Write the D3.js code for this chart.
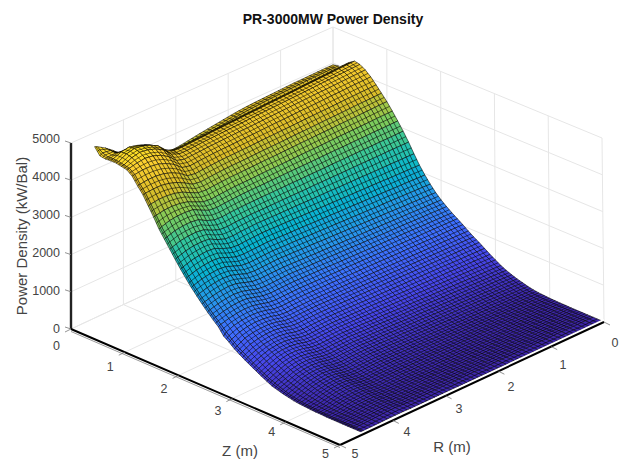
<!DOCTYPE html>
<html>
<head>
<meta charset="utf-8">
<script src="https://d3js.org/d3.v7.min.js"></script>
<style>
  html, body { margin: 0; padding: 0; background: #fff; }
  text { font-family: "Liberation Sans", Arial, sans-serif; }
</style>
</head>
<body>
<svg></svg>
<script>
const chartTitle = "PR-3000MW Power Density";
const zTicks = [0, 1, 2, 3, 4, 5];
const rTicks = [0, 1, 2, 3, 4, 5];
const powerTicks = [0, 1000, 2000, 3000, 4000, 5000];

const zValues = [0, .1, .2, .3, .4, .5, .6, .7, .8, .9, 1, 1.1, 1.2, 1.3, 1.4, 1.5, 1.6, 1.7, 1.8, 1.9, 2, 2.1, 2.2, 2.3, 2.4, 2.5, 2.6, 2.7, 2.8, 2.9, 3, 3.1, 3.2, 3.3, 3.4, 3.5, 3.6, 3.7, 3.8, 3.9, 4, 4.1, 4.2, 4.3, 4.4, 4.5, 4.6, 4.7, 4.8, 4.95];
const rValues = [0, .15, .3, .45, .6, .75, .9, 1.05, 1.2, 1.35, 1.5, 1.65, 1.8, 1.95, 2.1, 2.25, 2.4, 2.55, 2.7, 2.85, 3, 3.15, 3.3, 3.45, 3.6, 3.75, 3.9, 4.05, 4.2, 4.35, 4.5, 4.55];

// power density, one row per z, one column per r
const powerDensity = [
[3950,3950,3945,3940,3935,3930,3920,3910,3900,3890,3880,3865,3845,3820,3790,3760,3730,3700,3665,3630,3600,3570,3540,3580,3650,3800,3950,4110,4300,4460,4590,4620],
[3980,3975,3970,3965,3960,3950,3940,3930,3920,3910,3895,3880,3860,3835,3805,3775,3745,3715,3680,3645,3615,3590,3580,3640,3760,3940,4060,4150,4260,4450,4480,4430],
[3880,3870,3855,3845,3830,3820,3810,3795,3785,3770,3760,3750,3735,3725,3710,3700,3690,3675,3665,3650,3640,3630,3650,3750,3950,4150,4280,4340,4400,4440,4430,4410],
[4200,4190,4180,4165,4155,4145,4135,4120,4110,4100,4090,4080,4065,4055,4045,4030,4020,4010,4000,3985,3975,3965,3960,4000,4120,4330,4440,4520,4570,4530,4440,4420],
[4300,4290,4280,4265,4255,4245,4235,4220,4210,4200,4190,4180,4165,4155,4145,4130,4120,4110,4100,4085,4075,4060,4050,4060,4170,4380,4490,4560,4590,4540,4430,4420],
[4270,4260,4250,4240,4230,4220,4205,4195,4185,4175,4165,4155,4145,4135,4125,4110,4100,4090,4080,4070,4060,4045,4030,4030,4120,4330,4450,4520,4550,4500,4400,4390],
[4180,4170,4160,4150,4140,4130,4125,4115,4105,4095,4085,4075,4065,4055,4045,4035,4030,4020,4010,4000,3990,3975,3960,3950,4010,4210,4340,4420,4450,4420,4370,4360],
[4050,4040,4035,4025,4015,4010,4000,3990,3980,3975,3965,3955,3950,3940,3930,3920,3915,3905,3895,3890,3880,3865,3850,3830,3880,4060,4180,4260,4290,4290,4260,4250],
[3890,3880,3875,3865,3860,3850,3840,3835,3825,3820,3810,3800,3795,3785,3780,3770,3760,3755,3745,3740,3730,3715,3700,3680,3720,3880,3990,4060,4090,4090,4060,4050],
[3720,3710,3705,3700,3690,3680,3675,3670,3660,3650,3645,3640,3630,3620,3615,3610,3600,3590,3585,3580,3570,3555,3540,3520,3550,3680,3790,3860,3900,3900,3880,3870],
[3550,3545,3535,3530,3520,3515,3510,3500,3495,3490,3480,3475,3465,3460,3450,3445,3440,3430,3425,3415,3410,3395,3380,3360,3380,3480,3590,3650,3680,3680,3650,3630],
[3350,3345,3340,3330,3325,3320,3315,3310,3300,3295,3290,3285,3280,3270,3265,3260,3255,3250,3240,3235,3230,3215,3200,3180,3200,3290,3390,3440,3460,3450,3410,3390],
[3140,3135,3130,3130,3125,3120,3115,3110,3110,3105,3100,3095,3090,3090,3085,3080,3075,3070,3070,3065,3060,3045,3030,3010,3030,3130,3240,3260,3260,3230,3160,3130],
[2920,2915,2910,2910,2905,2905,2900,2900,2895,2895,2890,2885,2885,2880,2880,2875,2875,2870,2870,2865,2860,2850,2840,2820,2830,2910,3030,3060,3050,3020,2950,2920],
[2680,2680,2680,2680,2675,2675,2675,2675,2670,2670,2670,2670,2670,2665,2665,2665,2665,2660,2660,2660,2660,2650,2640,2620,2630,2710,2820,2850,2840,2810,2740,2710],
[2420,2425,2425,2430,2430,2430,2435,2440,2440,2440,2445,2450,2450,2450,2455,2460,2460,2460,2465,2470,2470,2460,2450,2430,2440,2520,2630,2650,2640,2600,2530,2500],
[2170,2175,2180,2185,2190,2200,2205,2210,2215,2220,2225,2230,2235,2240,2245,2250,2260,2265,2270,2275,2280,2270,2260,2240,2260,2340,2440,2460,2440,2400,2330,2300],
[1960,1965,1975,1980,1985,1995,2000,2005,2010,2020,2025,2030,2040,2045,2050,2060,2065,2070,2075,2085,2090,2080,2070,2060,2080,2160,2250,2270,2250,2210,2140,2110],
[1770,1780,1785,1795,1800,1810,1815,1820,1830,1835,1845,1850,1860,1865,1875,1880,1890,1900,1905,1910,1920,1910,1900,1890,1910,1990,2070,2090,2070,2030,1960,1930],
[1600,1610,1615,1625,1630,1640,1650,1655,1665,1670,1680,1690,1695,1705,1710,1720,1730,1735,1745,1750,1760,1750,1740,1730,1750,1830,1900,1920,1900,1860,1800,1770],
[1460,1465,1475,1480,1490,1495,1500,1510,1515,1525,1530,1535,1545,1550,1560,1565,1570,1580,1585,1595,1600,1595,1590,1580,1600,1670,1740,1760,1740,1700,1640,1610],
[1340,1345,1355,1360,1365,1375,1380,1385,1390,1400,1405,1410,1420,1425,1430,1440,1445,1450,1455,1465,1470,1460,1450,1440,1460,1530,1590,1610,1590,1550,1490,1460],
[1230,1235,1240,1245,1250,1260,1265,1270,1275,1280,1285,1290,1295,1300,1305,1310,1320,1325,1330,1335,1340,1335,1330,1320,1340,1400,1460,1470,1450,1410,1350,1320],
[1130,1135,1140,1145,1150,1150,1155,1160,1165,1170,1175,1180,1185,1190,1195,1195,1200,1205,1210,1215,1220,1215,1210,1200,1220,1280,1330,1340,1320,1280,1220,1190],
[1030,1035,1040,1040,1045,1050,1055,1060,1060,1065,1070,1075,1080,1080,1085,1090,1095,1100,1100,1105,1110,1105,1100,1090,1110,1170,1210,1220,1200,1160,1080,1000],
[920,925,930,935,940,940,945,950,955,960,965,970,975,980,985,985,990,995,1000,1005,1010,1005,1000,990,1010,1070,1100,1110,1090,1040,950,900],
[820,825,830,835,840,845,850,855,860,865,870,875,880,885,890,895,900,905,910,915,920,915,910,900,920,980,1010,1010,990,940,830,780],
[730,735,740,745,750,755,760,765,770,775,780,785,790,795,800,805,810,815,820,825,830,825,820,810,830,890,920,920,890,840,740,690],
[630,635,640,645,650,660,665,670,675,680,685,690,695,700,705,710,720,725,730,735,740,735,730,720,740,800,830,830,800,740,650,600],
[530,535,545,550,555,565,570,575,580,590,595,600,610,615,620,630,635,640,645,655,660,655,650,640,660,720,750,750,720,650,560,520],
[440,450,455,465,470,480,485,490,500,505,515,520,530,535,545,550,560,570,575,580,590,585,580,570,590,650,680,680,650,570,480,440],
[350,360,365,375,385,395,400,410,420,425,435,445,450,460,470,480,485,495,505,510,520,515,510,500,520,580,610,610,570,490,400,360],
[280,290,300,305,315,325,335,345,350,360,370,380,390,395,405,415,425,435,440,450,460,455,450,440,460,510,540,540,500,420,330,290],
[220,230,240,245,255,265,275,285,290,300,310,320,330,335,345,355,365,375,380,390,400,395,390,380,400,450,480,470,430,350,270,220],
[170,180,190,195,205,215,225,235,240,250,260,270,280,285,295,305,315,325,330,340,350,345,340,330,350,400,420,410,370,290,220,180],
[130,140,145,155,165,175,180,190,200,205,215,225,230,240,250,260,265,275,285,290,300,295,290,280,300,350,370,360,320,240,170,140],
[90,100,105,115,125,135,140,150,160,165,175,185,190,200,210,220,225,235,245,250,260,255,250,240,260,310,330,310,270,200,130,110],
[60,70,75,85,90,100,110,115,125,130,140,150,155,165,170,180,190,195,205,210,220,215,210,200,220,270,290,270,230,160,100,80],
[40,50,55,60,70,75,85,90,100,105,115,120,130,135,145,150,160,165,175,180,190,185,180,170,190,240,250,230,190,130,80,60],
[30,35,45,50,55,60,70,75,80,90,95,100,110,115,120,130,135,140,145,155,160,155,150,140,160,210,220,200,160,100,60,50],
[20,25,30,35,40,50,55,60,65,70,75,80,85,90,95,100,110,115,120,125,130,130,130,120,140,180,190,170,130,80,50,40],
[15,20,25,30,35,45,50,55,60,65,65,70,75,80,85,90,95,100,100,105,110,110,110,100,120,150,160,140,110,60,40,30],
[10,15,20,20,25,30,35,40,40,45,50,55,60,60,65,70,75,80,80,85,90,90,90,80,100,130,130,120,90,50,30,30],
[10,15,15,20,20,25,30,30,35,35,40,45,45,50,50,55,60,60,65,65,70,70,70,70,80,110,110,100,70,40,30,20],
[5,10,10,15,15,20,20,25,25,30,30,35,35,40,40,45,45,50,50,55,60,60,60,60,70,90,90,80,60,30,20,20],
[5,10,10,10,15,15,20,20,25,25,30,30,30,35,35,40,40,45,45,50,50,50,50,50,60,80,80,70,50,30,20,20],
[5,5,10,10,10,15,15,15,20,20,25,25,25,30,30,30,35,35,35,40,40,40,40,40,50,70,70,60,40,30,20,20],
[5,5,10,10,10,15,15,15,20,20,20,25,25,25,30,30,30,35,35,35,40,40,40,40,40,60,60,50,40,20,20,20],
[5,5,5,10,10,10,10,15,15,15,15,20,20,20,20,25,25,25,25,30,30,30,30,30,40,50,50,40,30,20,20,20],
[5,5,5,5,10,10,10,10,15,15,15,20,20,20,20,25,25,25,25,30,30,30,30,30,30,40,40,40,30,20,20,20]
];

const parula = ["#3e26a8", "#4747eb", "#3e6fff", "#2796eb", "#08b5d0", "#31c69f", "#81cc59", "#dcbd29", "#fccf30", "#f9fb15"];

const width = 624;
const height = 461;
let svg = d3.select("svg").attr("width", width).attr("height", height).style("display", "block");

// plot box corners on screen, floor and top: [z0 r5, z5 r5, z5 r0, z0 r0]
const floorBox = [[71, 329], [340, 445], [604, 322], [333, 207]];
const topBox = [[71, 143], [339, 255], [602, 138], [333, 27]];

let zFrac = d3.scaleLinear().domain([0, 5]).range([0, 1]);
let rFrac = d3.scaleLinear().domain([5, 0]).range([0, 1]);
let wFrac = d3.scaleLinear().domain([0, 5000]).range([0, 1]);

function project(z, r, w) {
  let t = zFrac(z), s = rFrac(r), u = wFrac(w);
  let corner = i => [
    floorBox[i][0] + (topBox[i][0] - floorBox[i][0]) * u,
    floorBox[i][1] + (topBox[i][1] - floorBox[i][1]) * u
  ];
  let c = [corner(0), corner(1), corner(2), corner(3)];
  let p = d => (1 - s) * ((1 - t) * c[0][d] + t * c[1][d]) + s * ((1 - t) * c[3][d] + t * c[2][d]);
  return [p(0), p(1)];
}

let line3d = pts => d3.line()(pts.map(p => project(p[0], p[1], p[2])));
let zMax = d3.max(zTicks), rMax = d3.max(rTicks), wMax = d3.max(powerTicks);

// grid on the floor and the two back walls
let gridLines = [];
zTicks.forEach(z => {
  gridLines.push([[z, 0, 0], [z, rMax, 0]]);
  gridLines.push([[z, 0, 0], [z, 0, wMax]]);
});
rTicks.forEach(r => {
  gridLines.push([[0, r, 0], [zMax, r, 0]]);
  gridLines.push([[0, r, 0], [0, r, wMax]]);
});
powerTicks.forEach(w => {
  gridLines.push([[0, 0, w], [zMax, 0, w]]);
  gridLines.push([[0, 0, w], [0, rMax, w]]);
});
svg.append("g").selectAll("path").data(gridLines).enter().append("path")
  .attr("d", line3d).attr("fill", "none").attr("stroke", "#e6e6e6").attr("stroke-width", 1);

// surface, far cells first
let colorScale = d3.scaleLinear()
  .domain(parula.map((c, i) => i / (parula.length - 1) * 4900))
  .range(parula);

let cells = [];
for (let i = 0; i < zValues.length - 1; i++) {
  for (let j = 0; j < rValues.length - 1; j++) {
    cells.push({i, j, w: (powerDensity[i][j] + powerDensity[i + 1][j] + powerDensity[i][j + 1] + powerDensity[i + 1][j + 1]) / 4});
  }
}

// outline of a cell, plus a hatch across it in the same plane: the table is coarser
// than the mesh in the picture, the hatch only carries the line density, no values
function cellPath(c) {
  let q = [
    project(zValues[c.i], rValues[c.j], powerDensity[c.i][c.j]),
    project(zValues[c.i + 1], rValues[c.j], powerDensity[c.i + 1][c.j]),
    project(zValues[c.i + 1], rValues[c.j + 1], powerDensity[c.i + 1][c.j + 1]),
    project(zValues[c.i], rValues[c.j + 1], powerDensity[c.i][c.j + 1])
  ];
  let mid = (a, b) => [(a[0] + b[0]) / 2, (a[1] + b[1]) / 2];
  return d3.line()(q) + "Z"
    + d3.line()([mid(q[0], q[1]), mid(q[2], q[3])])
    + d3.line()([mid(q[1], q[2]), mid(q[3], q[0])]);
}

svg.append("g").selectAll("path").data(cells).enter().append("path")
  .attr("d", cellPath)
  .attr("fill", c => colorScale(c.w))
  .attr("stroke", "#000")
  .attr("stroke-width", 0.55)
  .attr("stroke-linejoin", "round");

// axes
let axes = svg.append("g");
axes.append("path").attr("d", line3d([[0, rMax, 0], [0, rMax, wMax]]))
  .attr("fill", "none").attr("stroke", "#222").attr("stroke-width", 2.4);
axes.append("path").attr("d", line3d([[0, rMax, 0], [zMax, rMax, 0]]))
  .attr("transform", "translate(0,2.5)")
  .attr("fill", "none").attr("stroke", "#999").attr("stroke-width", 1);
axes.append("path").attr("d", line3d([[0, rMax, 0], [zMax, rMax, 0]]))
  .attr("fill", "none").attr("stroke", "#000").attr("stroke-width", 2);
axes.append("path").attr("d", line3d([[zMax, rMax, 0], [zMax, 0, 0]]))
  .attr("fill", "none").attr("stroke", "#fff").attr("stroke-width", 2)
  .attr("transform", "translate(0,-2)");
axes.append("path").attr("d", line3d([[zMax, rMax, 0], [zMax, 0, 0]]))
  .attr("fill", "none").attr("stroke", "#000").attr("stroke-width", 2);

let tickColor = "#444";
let zLabelDy = d3.scaleLinear().domain([0, 5]).range([20.5, 13]);
let rLabelDx = d3.scaleLinear().domain([0, 5]).range([11, 15]);
let rLabelDy = d3.scaleLinear().domain([0, 5]).range([24.5, 13]);
let wLabelDy = d3.scaleLinear().domain([0, 5000]).range([4, 0]);

zTicks.forEach(z => {
  let p = project(z, rMax, 0);
  axes.append("line").attr("x1", p[0]).attr("y1", p[1]).attr("x2", p[0] - 6).attr("y2", p[1] + 3)
    .attr("stroke", "#777").attr("stroke-width", 0.8);
  axes.append("text").attr("x", p[0] - 14.5).attr("y", p[1] + zLabelDy(z)).attr("text-anchor", "middle")
    .attr("font-size", 12.5).attr("fill", tickColor).text(z);
});
rTicks.forEach(r => {
  let p = project(zMax, r, 0);
  axes.append("line").attr("x1", p[0]).attr("y1", p[1]).attr("x2", p[0] + 6).attr("y2", p[1] + 3)
    .attr("stroke", "#777").attr("stroke-width", 0.8);
  axes.append("text").attr("x", p[0] + rLabelDx(r)).attr("y", p[1] + rLabelDy(r)).attr("text-anchor", "middle")
    .attr("font-size", 12.5).attr("fill", tickColor).text(r);
});
powerTicks.forEach(w => {
  let p = project(0, rMax, w);
  axes.append("line").attr("x1", p[0]).attr("y1", p[1]).attr("x2", p[0] - 6).attr("y2", p[1] - 2)
    .attr("stroke", "#777").attr("stroke-width", 0.8);
  axes.append("text").attr("x", p[0] - 11).attr("y", p[1] + wLabelDy(w)).attr("text-anchor", "end")
    .attr("font-size", 12.5).attr("fill", tickColor).text(w);
});

// labels and title
svg.append("text").attr("x", 333).attr("y", 24).attr("text-anchor", "middle")
  .attr("font-size", 14).attr("font-weight", "bold").attr("fill", "#111").text(chartTitle);
svg.append("text").attr("x", 240).attr("y", 456).attr("text-anchor", "middle")
  .attr("font-size", 15).attr("fill", tickColor).text("Z (m)");
svg.append("text").attr("x", 452).attr("y", 452).attr("text-anchor", "middle")
  .attr("font-size", 15).attr("fill", tickColor).text("R (m)");
svg.append("text").attr("transform", "translate(27,236) rotate(-90)").attr("text-anchor", "middle")
  .attr("font-size", 15).attr("fill", tickColor).text("Power Density (kW/Bal)");
</script>
</body>
</html>
